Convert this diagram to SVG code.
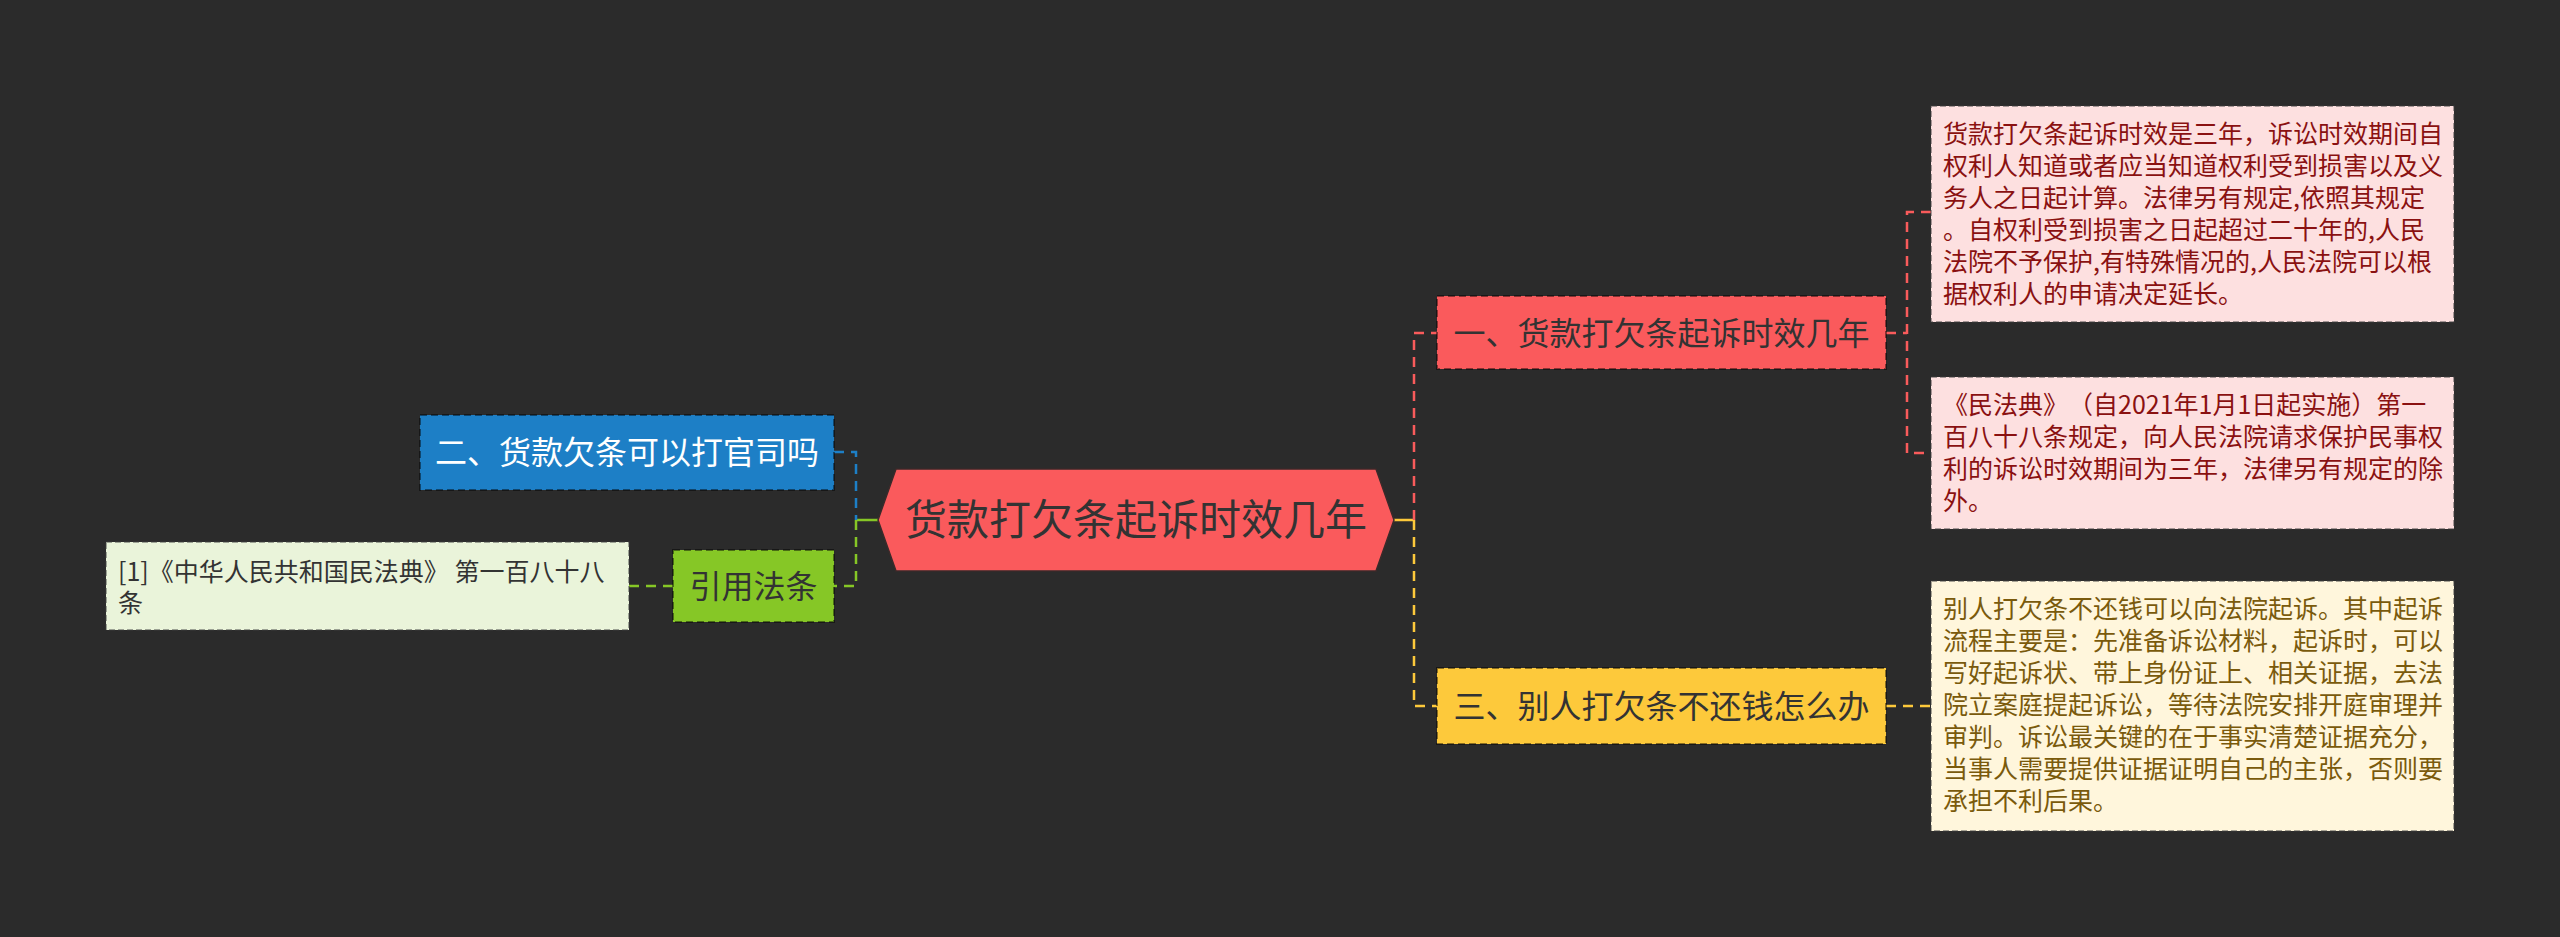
<svg xmlns="http://www.w3.org/2000/svg" width="2560" height="937" viewBox="0 0 2560 937">
<style>
text{font-family:"Noto Sans CJK SC","Noto Sans",sans-serif;text-spacing-trim:space-all}
.box{stroke:rgba(0,0,0,0.45);stroke-width:2;stroke-dasharray:7 4}
.leaf{stroke:rgba(60,60,60,0.6);stroke-width:1.5;stroke-dasharray:6 3}
.c{fill:none;stroke-width:2.5;stroke-dasharray:10 7}
.s{fill:none;stroke-width:2.5}
.t32{font-size:32px}
.t25{font-size:25px}
</style>
<rect width="2560" height="937" fill="#2b2b2b"/>
<g id="connectors">
<path class="s" stroke="#86c726" d="M856 520H878"/>
<path class="c" stroke="#1d7fc6" d="M834 452H856V520"/>
<path class="c" stroke="#86c726" d="M856 520V586H834"/>
<path class="c" stroke="#86c726" d="M629 586H673"/>
<path class="s" stroke="#fdc93b" d="M1394 520H1414"/>
<path class="c" stroke="#f95b5b" d="M1414 520V333H1437"/>
<path class="c" stroke="#fdc93b" d="M1414 520V706H1437"/>
<path class="c" stroke="#f95b5b" d="M1886 333H1907"/>
<path class="c" stroke="#f95b5b" d="M1931 212H1907V453H1931"/>
<path class="c" stroke="#fdc93b" d="M1886 706H1931"/>
</g>
<g id="center">
<polygon points="878,520 896,469 1376,469 1394,520 1376,571 896,571" fill="#fa5a5c" stroke="#3a2a2a" stroke-width="1.5"/>
<text x="1136" y="535" font-size="42" text-anchor="middle" fill="#333333">货款打欠条起诉时效几年</text>
</g>
<g id="n2">
<rect class="box" x="420" y="415" width="414" height="75" fill="#1d7fc6"/>
<text class="t32" x="627" y="464" text-anchor="middle" fill="#ffffff">二、货款欠条可以打官司吗</text>
</g>
<g id="ref">
<rect class="box" x="673" y="550" width="161" height="72" fill="#86c726"/>
<text class="t32" x="753.5" y="597.5" text-anchor="middle" fill="#333333">引用法条</text>
</g>
<g id="refleaf">
<rect class="leaf" x="106" y="542" width="523" height="88" fill="#eaf4da"/>
<text class="t25" fill="#333333"><tspan x="118" y="581">[1]《中华人民共和国民法典》 第一百八十八</tspan><tspan x="118" y="612">条</tspan></text>
</g>
<g id="n1">
<rect class="box" x="1437" y="296" width="449" height="73" fill="#fa5a5c"/>
<text class="t32" x="1661.5" y="344.5" text-anchor="middle" fill="#333333">一、货款打欠条起诉时效几年</text>
</g>
<g id="n3">
<rect class="box" x="1437" y="668" width="449" height="76" fill="#fdc93b"/>
<text class="t32" x="1661.5" y="717.5" text-anchor="middle" fill="#333333">三、别人打欠条不还钱怎么办</text>
</g>
<g id="leaf1">
<rect class="leaf" x="1931" y="106" width="523" height="216" fill="#fde0e0"/>
<text class="t25" fill="#8a1111"><tspan x="1943" y="143">货款打欠条起诉时效是三年，诉讼时效期间自</tspan><tspan x="1943" y="175">权利人知道或者应当知道权利受到损害以及义</tspan><tspan x="1943" y="207">务人之日起计算。法律另有规定,依照其规定</tspan><tspan x="1943" y="239">。自权利受到损害之日起超过二十年的,人民</tspan><tspan x="1943" y="271">法院不予保护,有特殊情况的,人民法院可以根</tspan><tspan x="1943" y="303">据权利人的申请决定延长。</tspan></text>
</g>
<g id="leaf2">
<rect class="leaf" x="1931" y="377" width="523" height="152" fill="#fde0e0"/>
<text class="t25" fill="#8a1111"><tspan x="1943" y="414">《民法典》（自2021年1月1日起实施）第一</tspan><tspan x="1943" y="446">百八十八条规定，向人民法院请求保护民事权</tspan><tspan x="1943" y="478">利的诉讼时效期间为三年，法律另有规定的除</tspan><tspan x="1943" y="510">外。</tspan></text>
</g>
<g id="leaf3">
<rect class="leaf" x="1931" y="581" width="523" height="250" fill="#fff6dc"/>
<text class="t25" fill="#7a5a0c"><tspan x="1943" y="618">别人打欠条不还钱可以向法院起诉。其中起诉</tspan><tspan x="1943" y="650">流程主要是：先准备诉讼材料，起诉时，可以</tspan><tspan x="1943" y="682">写好起诉状、带上身份证上、相关证据，去法</tspan><tspan x="1943" y="714">院立案庭提起诉讼，等待法院安排开庭审理并</tspan><tspan x="1943" y="746">审判。诉讼最关键的在于事实清楚证据充分，</tspan><tspan x="1943" y="778">当事人需要提供证据证明自己的主张，否则要</tspan><tspan x="1943" y="810">承担不利后果。</tspan></text>
</g>
</svg>
